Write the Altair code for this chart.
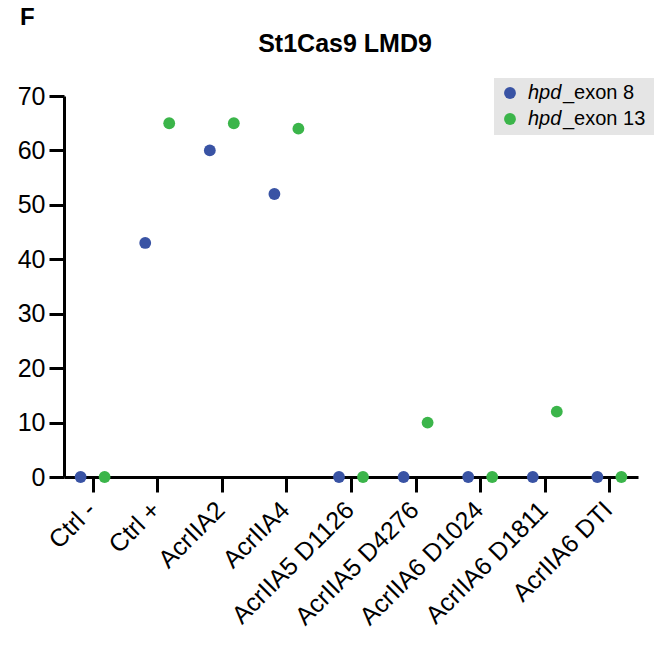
import altair as alt
import pandas as pd

categories = ["Ctrl -", "Ctrl +", "AcrIIA2", "AcrIIA4", "AcrIIA5 D1126",
              "AcrIIA5 D4276", "AcrIIA6 D1024", "AcrIIA6 D1811", "AcrIIA6 DTI"]
series = ["hpd_exon 8", "hpd_exon 13"]
exon8 = [0, 43, 60, 52, 0, 0, 0, 0, 0]
exon13 = [0, 65, 65, 64, 0, 10, 0, 12, 0]
colors = ["#3953a4", "#3bb54a"]
title_text = "St1Cas9 LMD9"
panel_label = "F"
y_ticks = [0, 10, 20, 30, 40, 50, 60, 70]

rows = []
for c, a, b in zip(categories, exon8, exon13):
    rows.append({"category": c, "series": series[0], "value": a})
    rows.append({"category": c, "series": series[1], "value": b})
df = pd.DataFrame(rows)

FONT = "Liberation Sans"

points = alt.Chart(df).mark_point(filled=True, size=140, opacity=1).encode(
    x=alt.X("category:N", sort=categories,
            scale=alt.Scale(type="point", padding=0.443),
            axis=alt.Axis(title=None, labelAngle=-45, tickSize=15, tickWidth=3,
                          domainWidth=3, domainColor="black", tickColor="black",
                          labelColor="black", labelFont=FONT, labelFontSize=25,
                          labelPadding=5, labelOffset=-10, grid=False, zindex=0)),
    xOffset=alt.XOffset("series:N", sort=series,
                        scale=alt.Scale(domain=series, range=[-24, 24])),
    y=alt.Y("value:Q", scale=alt.Scale(domain=[0, 70], nice=False),
            axis=alt.Axis(title=None, values=y_ticks, tickSize=15, tickWidth=3,
                          domainWidth=3, domainColor="black", tickColor="black",
                          labelColor="black", labelFont=FONT, labelFontSize=25,
                          labelPadding=4, grid=False, zindex=0)),
    color=alt.Color("series:N", sort=series,
                    scale=alt.Scale(domain=series, range=colors), legend=None),
)

one = alt.Data(values=[{"a": 1}])

title_mark = alt.Chart(one).mark_text(
    text=title_text, font=FONT, fontSize=25, fontWeight="bold",
    align="center", baseline="alphabetic", color="black"
).encode(x=alt.value(281), y=alt.value(-44))

f_mark = alt.Chart(one).mark_text(
    text=panel_label, font=FONT, fontSize=24, fontWeight="bold",
    align="left", baseline="alphabetic", color="black"
).encode(x=alt.value(-44), y=alt.value(-71))

leg_bg = alt.Chart(one).mark_rect(color="#e5e5e5").encode(
    x=alt.value(430), x2=alt.value(590), y=alt.value(-18), y2=alt.value(39))

leg_rows = pd.DataFrame({"series": series, "hpd": ["hpd", "hpd"],
                         "rest": ["_exon 8", "_exon 13"], "pos": [-3, 23]})

leg_dots = alt.Chart(leg_rows).mark_point(filled=True, size=140, opacity=1).encode(
    x=alt.value(446),
    y=alt.Y("pos:Q", scale=None),
    color=alt.Color("series:N", sort=series,
                    scale=alt.Scale(domain=series, range=colors), legend=None),
)
leg_it = alt.Chart(leg_rows).mark_text(
    font=FONT, fontSize=20, fontStyle="italic", align="left", baseline="middle",
    color="black").encode(x=alt.value(464), y=alt.Y("pos:Q", scale=None), text="hpd:N")
leg_rest = alt.Chart(leg_rows).mark_text(
    font=FONT, fontSize=20, align="left", baseline="middle",
    color="black").encode(x=alt.value(499), y=alt.Y("pos:Q", scale=None), text="rest:N")

chart = alt.layer(points, leg_bg, leg_dots, leg_it, leg_rest, title_mark, f_mark).properties(
    width=574, height=381,
    padding={"left": 64, "top": 96, "right": 16, "bottom": 169},
    autosize=alt.AutoSizeParams(type="none"),
).configure_view(strokeWidth=0)

chart.save("out.html", embed_options={"renderer": "svg", "actions": False})
